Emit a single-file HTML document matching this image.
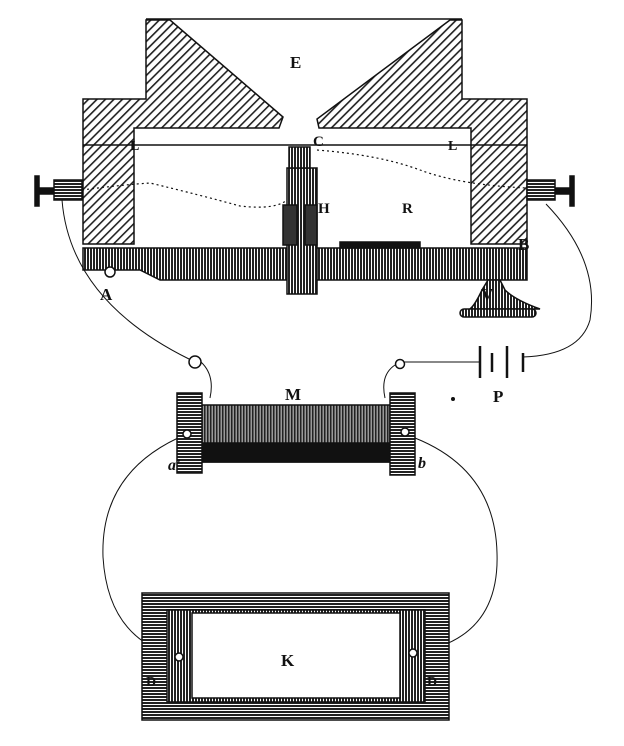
<!DOCTYPE html>
<html><head><meta charset="utf-8"><style>body{margin:0;background:#fff}svg{display:block}text{font-family:"Liberation Serif",serif;font-weight:bold;fill:#111}</style></head>
<body>
<svg width="624" height="746" viewBox="0 0 624 746" xmlns="http://www.w3.org/2000/svg">
<defs>
<pattern id="diag" width="6" height="6" patternUnits="userSpaceOnUse" patternTransform="rotate(45)"><rect width="6" height="6" fill="#fff"/><rect width="1.6" height="6" fill="#222"/></pattern>
<pattern id="vert" width="3" height="4" patternUnits="userSpaceOnUse"><rect width="3" height="4" fill="#fff"/><rect width="2" height="4" fill="#222"/></pattern>
<pattern id="horz" width="4" height="3" patternUnits="userSpaceOnUse"><rect width="4" height="3" fill="#fff"/><rect width="4" height="2" fill="#222"/></pattern>
<pattern id="coil" width="3" height="4" patternUnits="userSpaceOnUse"><rect width="3" height="4" fill="#999"/><rect width="1.5" height="4" fill="#222"/></pattern>
</defs>
<g stroke="#111" stroke-width="1.5">
<path d="M146,20 L170,20 L283,117 L279,128 L134,128 L134,244 L83,244 L83,99 L146,99 Z" fill="url(#diag)"/>
<path d="M462,20 L450,20 L317,119 L319,128 L471,128 L471,244 L527,244 L527,99 L462,99 Z" fill="url(#diag)"/>
<line x1="146" y1="19" x2="462" y2="19"/>
<line x1="83" y1="145" x2="527" y2="145"/>
<path d="M83,248 L527,248 L527,280 L160,280 L140,270 L83,270 Z" fill="url(#vert)"/>
<rect x="340" y="242" width="80" height="6" fill="#111"/>
<rect x="287" y="168" width="30" height="126" fill="url(#vert)"/>
<rect x="289" y="147" width="21" height="21" fill="url(#vert)"/>
<rect x="283" y="205" width="14" height="40" fill="#333"/>
<rect x="305" y="205" width="12" height="40" fill="#333"/>
<rect x="35" y="176" width="4" height="30" fill="#111"/>
<rect x="39" y="188" width="15" height="6" fill="#111"/>
<rect x="54" y="180" width="28" height="20" fill="url(#horz)"/>
<rect x="570" y="176" width="4" height="30" fill="#111"/>
<rect x="555" y="188" width="15" height="6" fill="#111"/>
<rect x="527" y="180" width="28" height="20" fill="url(#horz)"/>
<circle cx="110" cy="272" r="5" fill="#fff"/>
<path d="M488,280 L482,290 Q475,305 470,309 L540,309 Q515,300 505,290 L500,280 Z" fill="url(#vert)"/>
<rect x="460" y="309" width="76" height="8" rx="4" fill="url(#vert)"/>
</g>
<g fill="none" stroke="#111" stroke-width="1.2" stroke-dasharray="2,3">
<path d="M82,190 Q120,185 150,183 Q200,195 240,206 Q275,210 287,200"/>
<path d="M317,150 Q380,155 420,170 Q460,185 527,188"/>
</g>
<g fill="none" stroke="#111" stroke-width="1">
<path d="M62,200 Q70,300 189,359"/>
<path d="M201,362 Q215,375 210,398"/>
<path d="M546,204 Q600,260 590,320 Q580,355 523,357"/>
<path d="M395,365 Q380,375 385,398"/>
<path d="M404,362 L480,362"/>
<path d="M187,434 Q100,470 103,557 Q108,640 179,657"/>
<path d="M415,438 Q495,470 497,553 Q500,640 413,653"/>
</g>
<g stroke="#111" stroke-width="2.5">
<line x1="480" y1="346" x2="480" y2="378"/><line x1="492" y1="353" x2="492" y2="372"/>
<line x1="507" y1="346" x2="507" y2="378"/><line x1="523" y1="353" x2="523" y2="372"/>
</g>
<g stroke="#111" stroke-width="1.5">
<rect x="202" y="405" width="188" height="57" fill="url(#coil)"/>
<rect x="202" y="443" width="188" height="19" fill="#111"/>
<rect x="177" y="393" width="25" height="80" fill="url(#horz)"/>
<rect x="390" y="393" width="25" height="82" fill="url(#horz)"/>
<rect x="142" y="593" width="307" height="127" fill="url(#horz)"/>
<rect x="167" y="610" width="258" height="92" fill="url(#vert)"/>
<rect x="192" y="613" width="208" height="85" fill="#fff"/>
</g>
<g fill="#fff" stroke="#111" stroke-width="1.5">
<circle cx="195" cy="362" r="6"/><circle cx="400" cy="364" r="4.5"/>
<circle cx="187" cy="434" r="4"/><circle cx="405" cy="432" r="4"/>
<circle cx="179" cy="657" r="4"/><circle cx="413" cy="653" r="4"/>
</g>
<circle cx="453" cy="399" r="2" fill="#111"/>
<g font-size="17">
<text x="290" y="68">E</text>
<text x="130" y="150" font-size="14">L</text><text x="448" y="150" font-size="14">L</text>
<text x="313" y="146" font-size="15">C</text>
<text x="318" y="213" font-size="15">H</text><text x="402" y="213" font-size="15">R</text>
<text x="518" y="250">B</text><text x="100" y="300">A</text><text x="481" y="300">V</text>
<text x="285" y="400">M</text><text x="493" y="402">P</text>
<text x="168" y="470" font-style="italic" font-size="16">a'</text>
<text x="418" y="468" font-style="italic" font-size="16">b</text>
<text x="281" y="666">K</text>
<text x="146" y="686" font-size="14">D</text><text x="427" y="686" font-size="14">D</text>
</g>
</svg>
</body></html>
